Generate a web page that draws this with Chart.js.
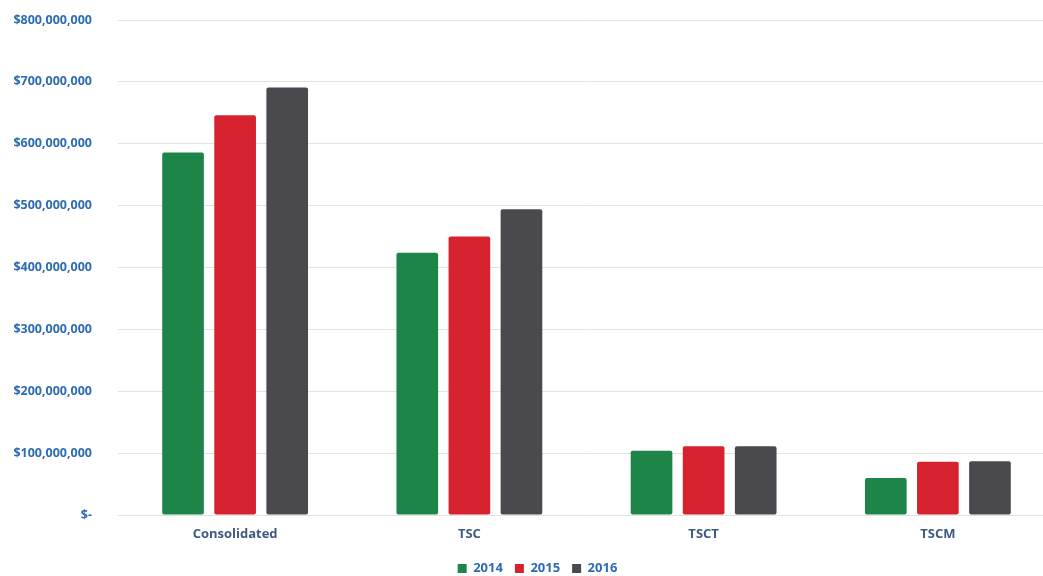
<!DOCTYPE html>
<html>
<head>
<meta charset="utf-8">
<script src="https://cdn.jsdelivr.net/npm/chart.js@4/dist/chart.umd.min.js"></script>
<style>
  html, body { margin: 0; padding: 0; background: #fff; overflow: hidden; }
  #wrap { width: 1055px; height: 576px; }
</style>
</head>
<body>
<div id="wrap"><canvas id="chart"></canvas></div>
<script>
const categories = ["Consolidated", "TSC", "TSCT", "TSCM"];
const years = ["2014", "2015", "2016"];
const values2014 = [586000000, 424000000, 104000000, 60000000];
const values2015 = [646000000, 450000000, 111000000, 86000000];
const values2016 = [691000000, 494000000, 111000000, 87000000];
const colors = ["#1e8549", "#d5222e", "#4a494d"];

function formatMoney(v) {
  if (v === 0) return "$-";
  return "$" + v.toLocaleString("en-US");
}

// legend sits a bit right of centre in the original
const legendShift = {
  id: "legendShift",
  afterLayout(chart) {
    chart.legend.left += 10;
    chart.legend.right += 10;
  },
};

const ctx = document.getElementById("chart");

new Chart(ctx, {
  type: "bar",
  data: {
    labels: categories,
    datasets: [values2014, values2015, values2016].map((vals, i) => ({
      label: years[i],
      data: vals,
      backgroundColor: colors[i],
      borderRadius: 2,
      borderSkipped: false,
      barPercentage: 0.8,
      categoryPercentage: 0.667,
    })),
  },
  options: {
    responsive: true,
    maintainAspectRatio: false,
    animation: false,
    // negative bottom pushes the legend down, like the original
    layout: { padding: { left: 0, top: 20, right: 0, bottom: -9 } },
    scales: {
      x: {
        grid: { display: false },
        border: { display: false },
        afterFit: (axis) => { axis.height = 35; },
        ticks: {
          color: "#3e5a7e",
          font: { family: "Open Sans", size: 13, weight: "bold" },
          padding: 3,
        },
      },
      y: {
        min: 0,
        max: 800000000,
        border: { display: false },
        grid: { color: "#e2e2e2", lineWidth: 1, drawTicks: false },
        afterFit: (axis) => {
          axis.width = 118;
          axis.paddingTop = 0;
          axis.paddingBottom = 0;
        },
        ticks: {
          stepSize: 100000000,
          color: "#2d6cb3",
          padding: 26,
          font: { family: "Open Sans", size: 12.5, weight: "bold" },
          callback: (v) => formatMoney(v),
        },
      },
    },
    plugins: {
      legend: {
        position: "bottom",
        labels: {
          color: "#2d6cb3",
          font: { family: "Open Sans", size: 13, weight: "bold" },
          boxWidth: 9,
          boxHeight: 9,
          padding: 12,
        },
      },
      tooltip: { enabled: false },
    },
  },
  plugins: [legendShift],
});
</script>
</body>
</html>
